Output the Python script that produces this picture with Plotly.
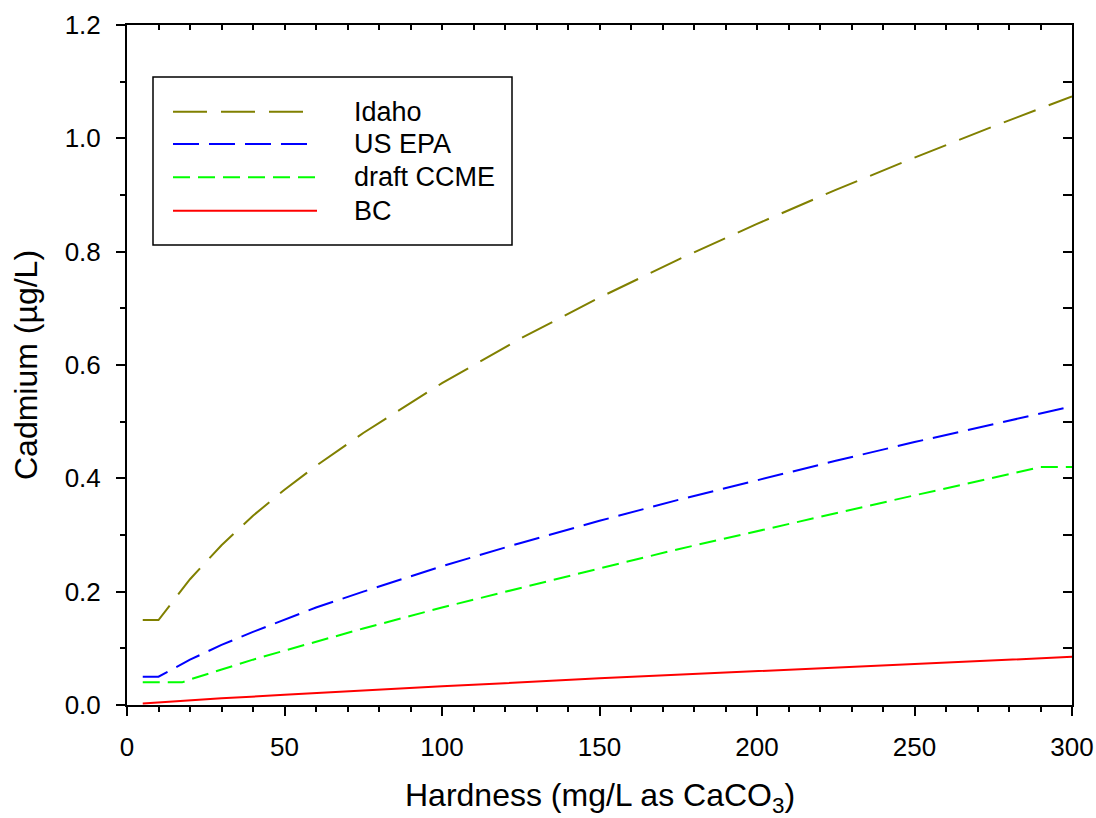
import plotly.graph_objects as go

# ---- data ----
hardness_idaho = [5, 10, 20, 30, 40, 50, 60, 75, 100, 125, 150, 175, 200, 225, 250, 275, 300]
cd_idaho = [0.15, 0.15, 0.222, 0.282, 0.334, 0.38, 0.422, 0.48, 0.568, 0.647, 0.719, 0.786,
            0.849, 0.909, 0.966, 1.021, 1.074]

hardness_epa = [5, 10, 20, 30, 40, 50, 60, 75, 100, 125, 150, 175, 200, 225, 250, 275, 300]
cd_epa = [0.05, 0.05, 0.08, 0.106, 0.129, 0.151, 0.172, 0.20, 0.245, 0.286, 0.325, 0.362,
          0.397, 0.431, 0.464, 0.496, 0.527]

hardness_ccme = [5, 17.5, 20, 30, 40, 50, 60, 75, 100, 125, 150, 175, 200, 225, 250, 275, 285, 290, 300]
cd_ccme = [0.04, 0.04, 0.045, 0.063, 0.08, 0.096, 0.112, 0.135, 0.172, 0.207, 0.241, 0.275,
           0.307, 0.339, 0.370, 0.401, 0.413, 0.42, 0.42]

hardness_bc = [5, 10, 20, 30, 50, 75, 100, 150, 200, 250, 300]
cd_bc = [0.0025, 0.0045, 0.0083, 0.0117, 0.018, 0.026, 0.033, 0.047, 0.060, 0.073, 0.085]

series_names = ["Idaho", "US EPA", "draft CCME", "BC"]
series_colors = ["#808000", "#0000FF", "#00FF00", "#FF0000"]
series_dash = ["34px,14px", "26px,10px", "17px,8px", "solid"]

x_ticks = [0, 50, 100, 150, 200, 250, 300]
y_ticks = [0.0, 0.2, 0.4, 0.6, 0.8, 1.0, 1.2]
x_title = "Hardness (mg/L as CaCO<sub>3</sub>)"
y_title = "Cadmium (µg/L)"

FONT = "Arial, Liberation Sans, sans-serif"

fig = go.Figure()
xs = [hardness_idaho, hardness_epa, hardness_ccme, hardness_bc]
ys = [cd_idaho, cd_epa, cd_ccme, cd_bc]
for name, color, dash, x, y in zip(series_names, series_colors, series_dash, xs, ys):
    fig.add_trace(go.Scatter(x=x, y=y, mode="lines", name=name, showlegend=False,
                             line=dict(color=color, width=2, dash=dash)))

# empty trace to carry the mirrored (top/right) axes
fig.add_trace(go.Scatter(x=[], y=[], xaxis="x2", yaxis="y2", showlegend=False, hoverinfo="skip"))

W, H = 1096, 818
ML, MR, MT, MB = 127, 24, 25, 113
PW, PH = W - ML - MR, H - MT - MB

def px_x(p):
    return (p - ML) / PW

def px_y(p):
    return (H - MB - p) / PH

fig.update_layout(
    width=W, height=H,
    margin=dict(l=ML, r=MR, t=MT, b=MB, pad=0, autoexpand=False),
    paper_bgcolor="white", plot_bgcolor="white",
    font=dict(family=FONT, color="black"),
    xaxis=dict(range=[0, 300], tickvals=x_ticks, ticks="outside", ticklen=9, tickwidth=1.5,
               tickcolor="black", showline=True, linewidth=2, linecolor="black",
               showgrid=False, zeroline=False, tickfont=dict(size=26, family=FONT),
               ticklabelstandoff=9, automargin=False,
               minor=dict(dtick=10, tick0=0, ticks="outside", ticklen=5, tickwidth=1.5,
                          tickcolor="black", showgrid=False)),
    yaxis=dict(range=[0, 1.2], tickvals=y_ticks, tickformat=".1f", ticks="outside", ticklen=9,
               tickwidth=1.5, tickcolor="black", showline=True, linewidth=2, linecolor="black",
               showgrid=False, zeroline=False, tickfont=dict(size=26, family=FONT),
               ticklabelstandoff=10, automargin=False,
               minor=dict(dtick=0.1, tick0=0, ticks="outside", ticklen=5, tickwidth=1.5,
                          tickcolor="black", showgrid=False)),
    xaxis2=dict(overlaying="x", side="top", anchor="y2", range=[0, 300], dtick=10, tick0=0,
                ticks="inside", ticklen=5, tickwidth=1.5, tickcolor="black",
                showticklabels=False, showline=True, linewidth=1.5, linecolor="black",
                showgrid=False, zeroline=False, automargin=False),
    yaxis2=dict(overlaying="y", side="right", anchor="x2", range=[0, 1.2], dtick=0.1, tick0=0,
                ticks="inside", ticklen=9, tickwidth=1.5, tickcolor="black",
                showticklabels=False, showline=True, linewidth=1.5, linecolor="black",
                showgrid=False, zeroline=False, automargin=False),
)

# axis titles
fig.add_annotation(text=x_title, xref="paper", yref="paper", x=px_x(600), y=px_y(797),
                   xanchor="center", yanchor="middle", showarrow=False,
                   font=dict(size=32, family=FONT, color="black"))
fig.add_annotation(text=y_title, xref="paper", yref="paper", x=px_x(26), y=px_y(365),
                   xanchor="center", yanchor="middle", textangle=-90, showarrow=False,
                   font=dict(size=32, family=FONT, color="black"))

# legend box
fig.add_shape(type="rect", xref="paper", yref="paper",
              x0=px_x(153), x1=px_x(512), y0=px_y(245), y1=px_y(77),
              line=dict(color="black", width=1.5), fillcolor="white", layer="above")
legend_rows = [111.7, 144, 177.3, 210.7]
for name, color, dash, ry in zip(series_names, series_colors, series_dash, legend_rows):
    fig.add_shape(type="line", xref="paper", yref="paper",
                  x0=px_x(173), x1=px_x(317), y0=px_y(ry), y1=px_y(ry),
                  line=dict(color=color, width=2, dash=dash), layer="above")
    fig.add_annotation(text=name, xref="paper", yref="paper", x=px_x(352), y=px_y(ry),
                       xanchor="left", yanchor="middle", showarrow=False,
                       font=dict(size=27, family=FONT, color="black"))

fig.write_html("out.html", config={"displayModeBar": False},
               post_script="document.body.style.margin='0px';document.body.style.overflow='hidden';")
